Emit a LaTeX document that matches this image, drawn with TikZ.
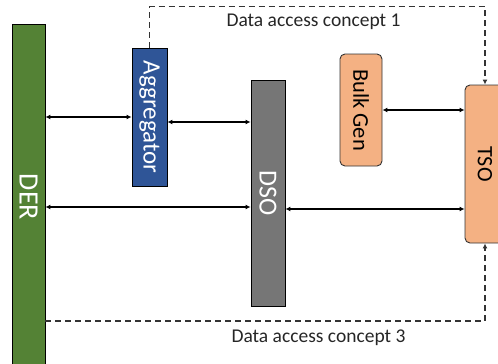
\documentclass[tikz,border=0pt]{standalone}
\usepackage{fontspec}
\setmainfont{Carlito}
\usepackage{graphicx}
\usepackage{xcolor}
\usepackage{tikz}
\usetikzlibrary{arrows.meta,positioning,calc}
\definecolor{dervert}{HTML}{548235}
\definecolor{aggbleu}{HTML}{2F5597}
\definecolor{dsogris}{HTML}{767676}
\definecolor{tsosaumon}{HTML}{F4B183}
\definecolor{lbltexte}{HTML}{262626}
\definecolor{pointille}{HTML}{333333}

\begin{document}
\begin{tikzpicture}[x=1pt,y=-1pt,
  blk/.style={rectangle,draw=black,line width=0.9pt,inner sep=0pt,text=white},
  gen/.style={rectangle,rounded corners=5pt,draw=black!80,line width=0.9pt,
    inner sep=0pt,fill=tsosaumon,text=black},
  lbl/.style={font=\fontsize{19.5}{22}\selectfont,text=lbltexte,anchor=base,inner sep=0pt},
  bi/.style={{Latex[length=5pt,width=5pt]}-{Latex[length=5pt,width=5pt]},line width=1.2pt},
  dac/.style={-{Latex[length=5pt,width=5pt]},pointille,line width=1.4pt,dash pattern=on 6pt off 4pt}]
  \useasboundingbox (0,0) rectangle (498,364);
  \clip (0,0) rectangle (498,364);
  \node[blk,fill=dervert,minimum width=33pt,minimum height=346pt] (der) at (28.5,197)
    {\rotatebox{-90}{\fontsize{28}{30}\selectfont DER}};
  \node[blk,fill=aggbleu,minimum width=35pt,minimum height=138pt] (agg) at (149.5,117)
    {\rotatebox{-90}{\fontsize{25}{27}\selectfont Aggregator}};
  \node[blk,fill=dsogris,minimum width=34pt,minimum height=226pt] (dso) at (268,193)
    {\rotatebox{-90}{\fontsize{26}{28}\selectfont DSO}};
  \node[gen,minimum width=42pt,minimum height=112pt] (bulk) at (361,110)
    {\rotatebox{-90}{\fontsize{22.5}{24}\selectfont Bulk Gen}};
  \node[gen,minimum width=40pt,minimum height=158pt] (tso) at (485,164)
    {\rotatebox{-90}{\fontsize{22}{24}\selectfont TSO}};
  % echanges directs
  \draw[bi] (der.east |- agg.west) -- (agg.west);
  \draw[bi] ([yshift=-5pt]agg.east) -- ([yshift=-5pt]agg.east -| dso.west);
  \draw[bi] (bulk.east) -- (bulk.east -| tso.west);
  \draw[bi] (der.east |- 0,207) -- (dso.west |- 0,207);
  \draw[bi] (dso.east |- 0,209) -- (tso.west |- 0,209);
  % concepts d'acces aux donnees
  \draw[dac] (agg.north) -- ++(0,-41) -| (tso.north);
  \node[lbl] (dac1) at (313.5,27) {Data access concept 1};
  \draw[dac] (der.east |- 0,321) -| (tso.south);
  \node[lbl] (dac3) at (318.5,342) {Data access concept 3};
\end{tikzpicture}
\end{document}
